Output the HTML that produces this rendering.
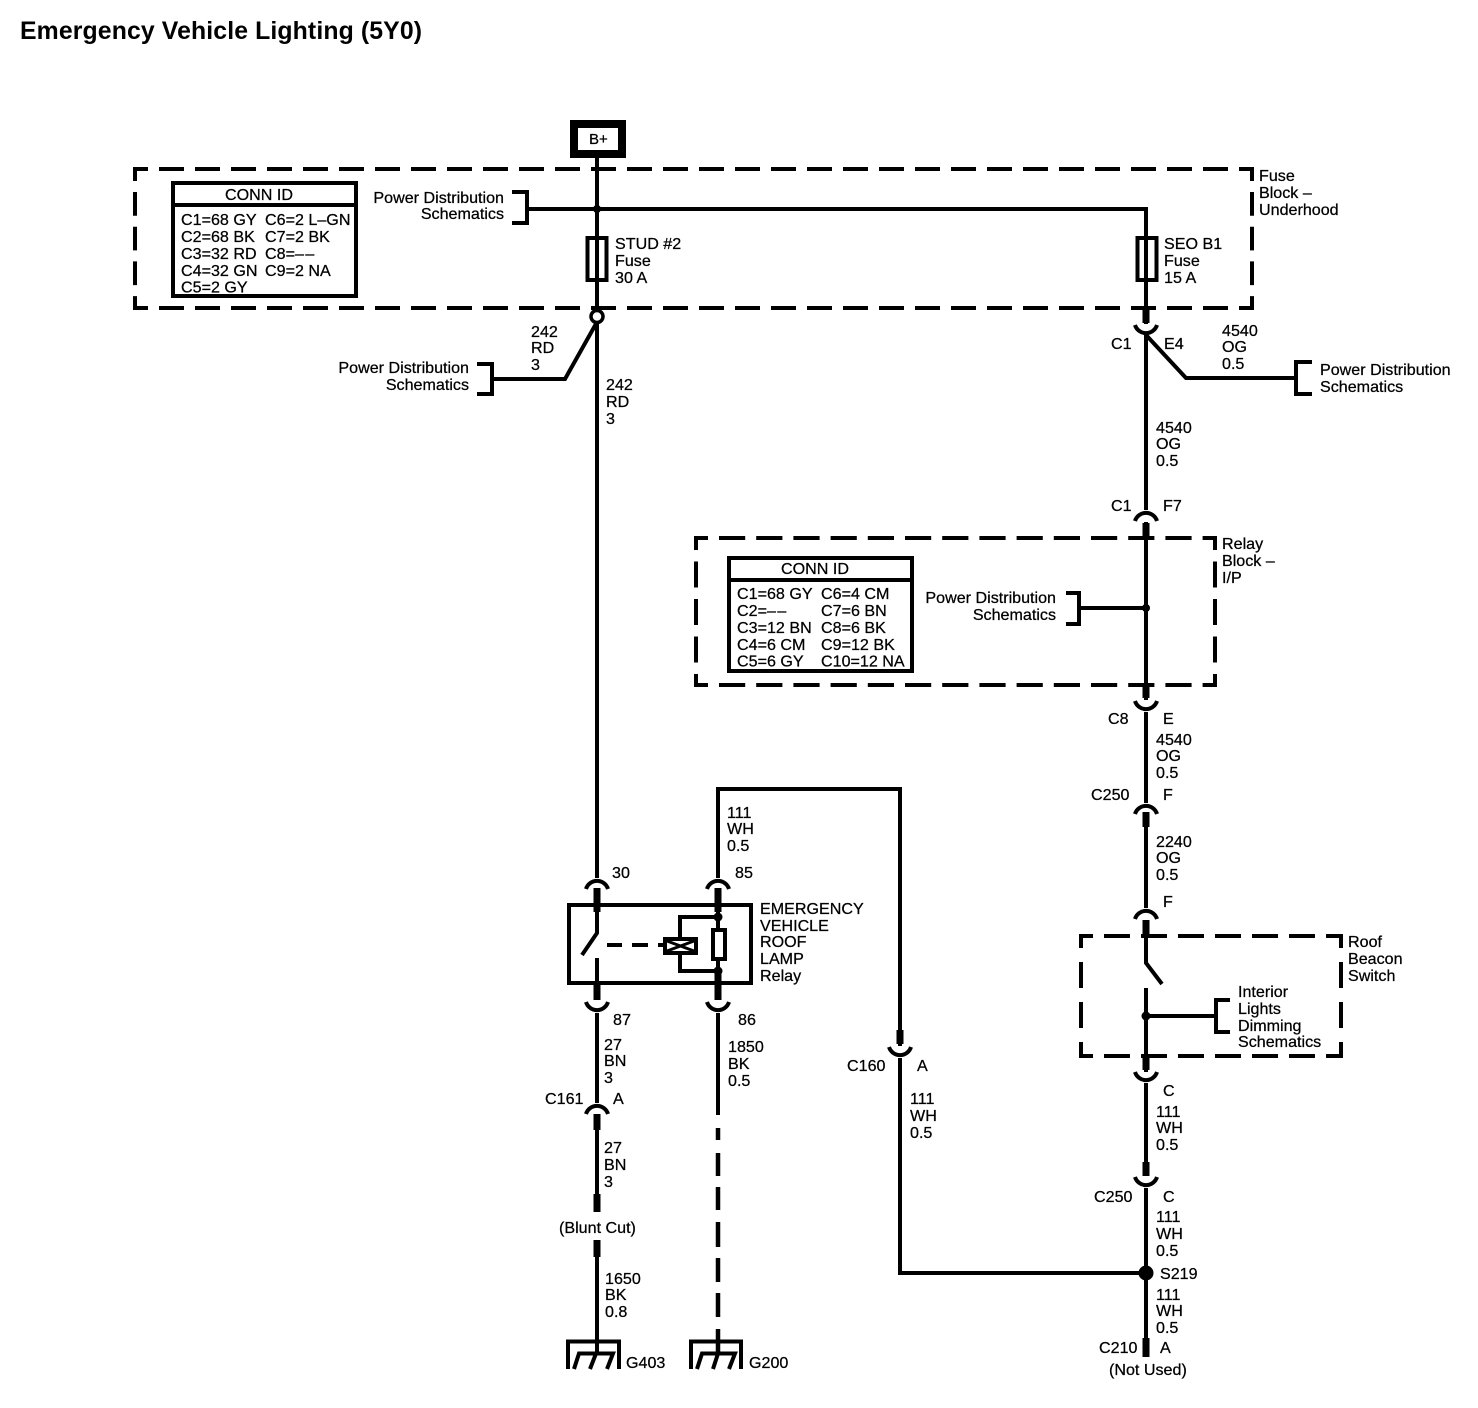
<!DOCTYPE html>
<html>
<head>
<meta charset="utf-8">
<style>
html,body{margin:0;padding:0;background:#fff}
svg{display:block}
text{font-family:"Liberation Sans",sans-serif;font-size:16.1px;fill:#000;stroke:#000;stroke-width:.25}
.r{text-anchor:end}
.c{text-anchor:middle}
.w{fill:none;stroke:#000;stroke-width:4}
.s{fill:none;stroke:#000;stroke-width:7}
</style>
</head>
<body>
<svg width="1478" height="1408" viewBox="0 0 1478 1408" xmlns="http://www.w3.org/2000/svg">
<rect width="1478" height="1408" fill="#fff"/>
<text x="20" y="39" style="font-size:24.8px;font-weight:bold;stroke-width:0" textLength="402">Emergency Vehicle Lighting (5Y0)</text>

<!-- dashed boxes -->
<g fill="none" stroke="#000" stroke-width="4">
<path d="M133 169H1254M133 308H1254" stroke-dasharray="25 11" stroke-dashoffset="10"/>
<path d="M135 167V310M1252 167V310" stroke-dasharray="23.7 11" stroke-dashoffset="9.7"/>
<path d="M694 538H1217M694 685H1217" stroke-dasharray="26.200 11" stroke-dashoffset="12.200"/>
<path d="M696 536V687M1215 536V687" stroke-dasharray="26 11.500" stroke-dashoffset="12"/>
<path d="M1079 936H1343M1079 1056H1343" stroke-dasharray="26 11" stroke-dashoffset="12"/>
<path d="M1081 934V1058M1341 934V1058" stroke-dasharray="26 14" stroke-dashoffset="12"/>
</g>

<!-- B+ -->
<rect x="574" y="124" width="48" height="30" fill="#fff" stroke="#000" stroke-width="8"/>
<text x="589" y="144" style="font-size:15px">B+</text>

<!-- main wires -->
<path class="w" d="M597 158V311M597 323V878"/>
<path class="w" d="M527 209H1146V324"/>
<path class="w" d="M597 322L565 379H492"/>
<path class="w" d="M477 364H492V394H477"/>
<path class="w" d="M512 192H527V223H512"/>
<path class="w" d="M1146 335V510"/>
<path class="w" d="M1146 335L1186 378H1296"/>
<path class="w" d="M1312 362H1296V394H1312"/>
<path class="w" d="M1146 522V700"/>
<path class="w" d="M1146 608H1079"/>
<path class="w" d="M1066 593H1079V624H1066"/>
<path class="w" d="M1146 712V803"/>
<path class="w" d="M1146 815V908"/>
<path class="w" d="M1146 920V963L1162 984"/>
<path class="w" d="M1146 988V1072"/>
<path class="w" d="M1146 1083V1176"/>
<path class="w" d="M1146 1188V1340"/>
<path class="w" d="M1146 1016H1215"/>
<path class="w" d="M1230 1000H1216V1032H1230"/>
<path class="w" d="M718 878V789H900V1046"/>
<path class="w" d="M900 1058V1273H1146"/>
<path class="w" d="M597 1013V1103"/>
<path class="w" d="M597 1130V1194"/>
<path class="w" d="M597 1257V1353"/>
<path class="w" d="M718 1013V1115"/>
<path d="M718 1128V1140M718 1153V1176M718 1187V1210M718 1222V1247M718 1258V1282M718 1293V1317M718 1329V1353" fill="none" stroke="#000" stroke-width="4.500"/>

<!-- fuses -->
<rect class="w" x="587.500" y="238" width="19" height="42"/>
<rect class="w" x="1137.500" y="238" width="19" height="42"/>

<!-- connector stubs -->
<path class="s" d="M597 888V912M718 888V912M597 985V1000M718 973V1000M1146 308V323M1146 523V540M1146 685V698M1146 812V827M1146 920V936M1146 1055V1070M1146 1162V1176M900 1030V1044M597 1114V1130M597 1194V1212M597 1240V1257M1146 1338V1357"/>

<!-- arcs -->
<g fill="none" stroke="#000" stroke-width="4">
<path d="M586 889A11.500 11.500 0 0 1 608 889"/>
<path d="M707 889A11.500 11.500 0 0 1 729 889"/>
<path d="M1135 521A11.500 11.500 0 0 1 1157 521"/>
<path d="M1135 814A11.500 11.500 0 0 1 1157 814"/>
<path d="M1135 919A11.500 11.500 0 0 1 1157 919"/>
<path d="M586 1114A11.500 11.500 0 0 1 608 1114"/>
<path d="M1135 325A11.500 11.500 0 0 0 1157 325"/>
<path d="M1135 701A11.500 11.500 0 0 0 1157 701"/>
<path d="M586 1002A11.500 11.500 0 0 0 608 1002"/>
<path d="M707 1002A11.500 11.500 0 0 0 729 1002"/>
<path d="M889 1047A11.500 11.500 0 0 0 911 1047"/>
<path d="M1135 1072A11.500 11.500 0 0 0 1157 1072"/>
<path d="M1135 1177A11.500 11.500 0 0 0 1157 1177"/>
</g>

<!-- junctions -->
<circle cx="597" cy="209" r="4"/>
<circle cx="597" cy="316.500" r="6" fill="#fff" stroke="#000" stroke-width="3.500"/>
<circle cx="1146" cy="608" r="4"/>
<circle cx="1146" cy="1016" r="4.500"/>
<circle cx="1146" cy="1273" r="7.500"/>

<!-- relay -->
<rect class="w" x="569" y="905" width="182" height="78"/>
<path class="w" d="M597 912V933L582 955M597 958V985"/>
<path class="w" d="M718 912V975"/>
<path class="w" d="M718 917H680V937M680 953V971H718"/>
<circle cx="718" cy="917" r="4.500"/>
<circle cx="718" cy="971" r="4.500"/>
<rect x="713" y="930" width="12" height="29" fill="#fff" stroke="#000" stroke-width="4"/>
<rect x="665" y="939" width="31" height="14" fill="#fff" stroke="#000" stroke-width="4"/>
<path d="M667 941L694 951M694 941L667 951" fill="none" stroke="#000" stroke-width="3"/>
<path class="w" d="M607 945H622M632 945H648M658 945H665"/>

<!-- grounds -->
<path class="w" d="M568 1369V1341.500H619V1369"/>
<path class="w" d="M691 1369V1341.500H741V1369"/>
<path class="w" d="M574 1369L579 1353.500H613L607 1369M590 1369L596 1353.500"/>
<path class="w" d="M697 1369L702 1353.500H735L729 1369M713 1369L718 1353.500"/>

<!-- conn id tables -->
<rect class="w" x="173" y="183" width="183" height="113"/>
<path class="w" d="M173 205H356"/>
<rect class="w" x="729" y="558" width="183" height="113"/>
<path class="w" d="M729 580H912"/>

<text class="c" x="259" y="200">CONN ID</text>
<text x="181" y="225">C1=68 GY</text><text x="265" y="225">C6=2 L–GN</text>
<text x="181" y="242">C2=68 BK</text><text x="265" y="242">C7=2 BK</text>
<text x="181" y="259">C3=32 RD</text><text x="265" y="259">C8=<tspan letter-spacing="1.500">––</tspan></text>
<text x="181" y="276">C4=32 GN</text><text x="265" y="276">C9=2 NA</text>
<text x="181" y="292.500">C5=2 GY</text>

<text class="c" x="815" y="574">CONN ID</text>
<text x="737" y="599">C1=68 GY</text><text x="821" y="599">C6=4 CM</text>
<text x="737" y="616">C2=<tspan letter-spacing="1.500">––</tspan></text><text x="821" y="616">C7=6 BN</text>
<text x="737" y="633">C3=12 BN</text><text x="821" y="633">C8=6 BK</text>
<text x="737" y="650">C4=6 CM</text><text x="821" y="650">C9=12 BK</text>
<text x="737" y="666.500">C5=6 GY</text><text x="821" y="666.500">C10=12 NA</text>

<!-- labels -->
<text class="r" x="504" y="203">Power Distribution</text><text class="r" x="504" y="219">Schematics</text>
<text class="r" x="469" y="373">Power Distribution</text><text class="r" x="469" y="390">Schematics</text>
<text x="1320" y="375">Power Distribution</text><text x="1320" y="392">Schematics</text>
<text class="r" x="1056" y="603">Power Distribution</text><text class="r" x="1056" y="620">Schematics</text>

<text x="1259" y="181">Fuse</text><text x="1259" y="198">Block –</text><text x="1259" y="215">Underhood</text>
<text x="615" y="249">STUD #2</text><text x="615" y="266">Fuse</text><text x="615" y="283">30 A</text>
<text x="1164" y="249">SEO B1</text><text x="1164" y="266">Fuse</text><text x="1164" y="283">15 A</text>

<text x="531" y="337">242</text><text x="531" y="353">RD</text><text x="531" y="370">3</text>
<text x="606" y="390">242</text><text x="606" y="407">RD</text><text x="606" y="424">3</text>

<text x="1111" y="349">C1</text><text x="1164" y="349">E4</text>
<text x="1222" y="336">4540</text><text x="1222" y="352">OG</text><text x="1222" y="369">0.5</text>
<text x="1156" y="433">4540</text><text x="1156" y="449">OG</text><text x="1156" y="466">0.5</text>
<text x="1111" y="511">C1</text><text x="1163" y="511">F7</text>
<text x="1222" y="549">Relay</text><text x="1222" y="566">Block –</text><text x="1222" y="583">I/P</text>

<text x="1108" y="724">C8</text><text x="1163" y="724">E</text>
<text x="1156" y="745">4540</text><text x="1156" y="761">OG</text><text x="1156" y="778">0.5</text>
<text x="1091" y="800">C250</text><text x="1163" y="800">F</text>
<text x="1156" y="847">2240</text><text x="1156" y="863">OG</text><text x="1156" y="880">0.5</text>
<text x="1163" y="907">F</text>
<text x="1348" y="947">Roof</text><text x="1348" y="964">Beacon</text><text x="1348" y="981">Switch</text>
<text x="1238" y="997">Interior</text><text x="1238" y="1014">Lights</text><text x="1238" y="1031">Dimming</text><text x="1238" y="1047">Schematics</text>
<text x="1163" y="1096">C</text>
<text x="1156" y="1117">111</text><text x="1156" y="1133">WH</text><text x="1156" y="1150">0.5</text>
<text x="1094" y="1202">C250</text><text x="1163" y="1202">C</text>
<text x="1156" y="1222">111</text><text x="1156" y="1239">WH</text><text x="1156" y="1256">0.5</text>
<text x="1160" y="1279">S219</text>
<text x="1156" y="1300">111</text><text x="1156" y="1316">WH</text><text x="1156" y="1333">0.5</text>
<text x="1099" y="1353">C210</text><text x="1160" y="1353">A</text>
<text x="1109" y="1375">(Not Used)</text>

<text x="612" y="878">30</text><text x="735" y="878">85</text>
<text x="613" y="1025">87</text><text x="738" y="1025">86</text>
<text x="727" y="818">111</text><text x="727" y="834">WH</text><text x="727" y="851">0.5</text>
<text x="760" y="914">EMERGENCY</text><text x="760" y="931">VEHICLE</text><text x="760" y="947">ROOF</text><text x="760" y="964">LAMP</text><text x="760" y="981">Relay</text>
<text x="604" y="1050">27</text><text x="604" y="1066">BN</text><text x="604" y="1083">3</text>
<text x="545" y="1104">C161</text><text x="613" y="1104">A</text>
<text x="604" y="1153">27</text><text x="604" y="1170">BN</text><text x="604" y="1187">3</text>
<text x="559" y="1233">(Blunt Cut)</text>
<text x="605" y="1284">1650</text><text x="605" y="1300">BK</text><text x="605" y="1317">0.8</text>
<text x="626" y="1368">G403</text><text x="749" y="1368">G200</text>
<text x="728" y="1052">1850</text><text x="728" y="1069">BK</text><text x="728" y="1086">0.5</text>
<text x="847" y="1071">C160</text><text x="917" y="1071">A</text>
<text x="910" y="1104">111</text><text x="910" y="1121">WH</text><text x="910" y="1138">0.5</text>
</svg>
</body>
</html>
